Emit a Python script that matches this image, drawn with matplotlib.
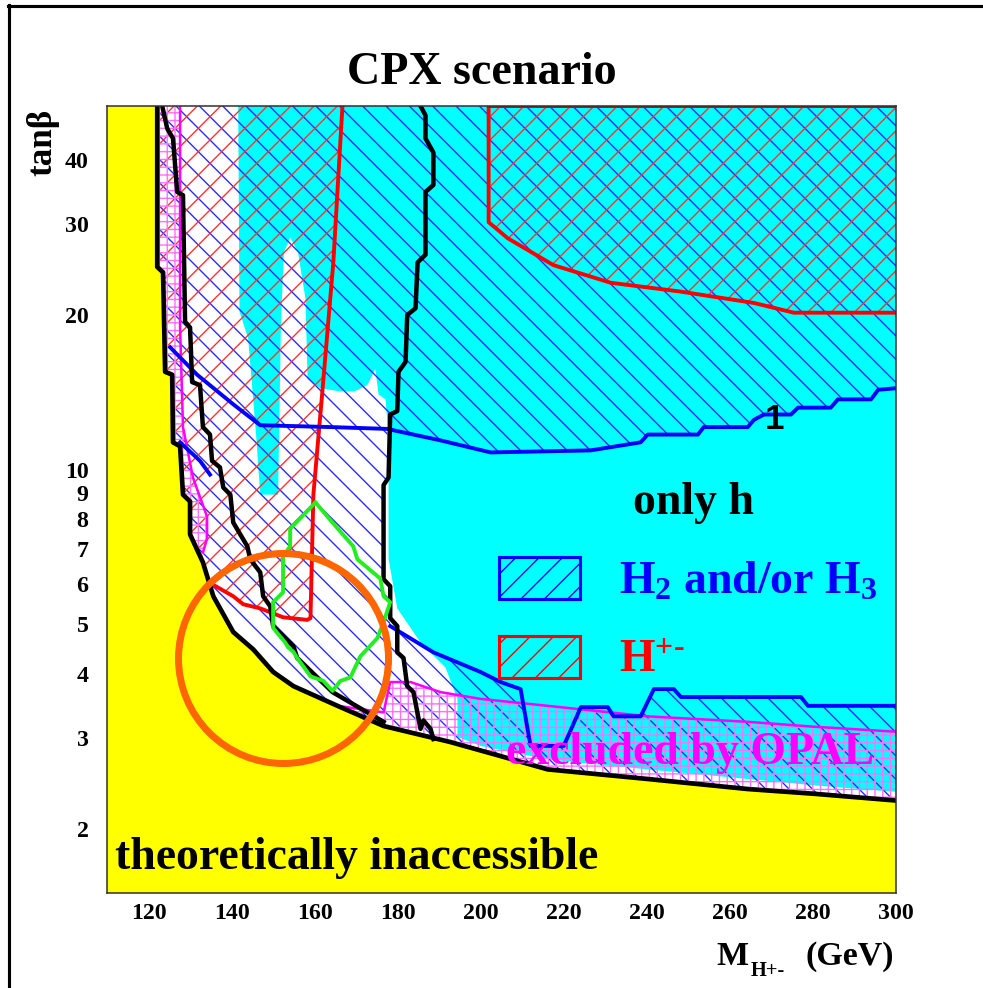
import matplotlib
matplotlib.use("Agg")
import matplotlib.pyplot as plt
from matplotlib.patches import Polygon, Patch
from matplotlib.lines import Line2D

plt.rcParams['hatch.linewidth'] = 0.7
plt.rcParams['font.family'] = ['Liberation Serif', 'DejaVu Serif']
plt.rcParams['font.weight'] = 'bold'
plt.rcParams['mathtext.fontset'] = 'custom'
plt.rcParams['mathtext.rm'] = 'Liberation Serif:bold'
plt.rcParams['mathtext.bf'] = 'Liberation Serif:bold'
plt.rcParams['mathtext.it'] = 'Liberation Serif:bold'
plt.rcParams['mathtext.default'] = 'rm'

XMIN, XMAX = 110, 300
YMIN, YMAX = 1.5, 51

# theoretical limit (edge of the yellow region), top -> right
edge_m = [122.1, 122.1, 123.5, 124.0, 125.7, 125.9, 127.6, 128.3, 130.0, 130.0, 133.1, 135.6, 140.4,
          145.2, 150.0, 154.9, 165.5, 176.6, 192.7, 204.8, 216.1, 240.2, 264.3, 280.2, 300.0]
edge_tb = [51, 24.8, 24.2, 15.5, 15.3, 11.3, 11.1, 8.94, 8.67, 7.48, 6.60, 5.67, 4.83,
           4.47, 4.04, 3.79, 3.47, 3.17, 2.95, 2.77, 2.61, 2.50, 2.39, 2.34, 2.27]

# inner black contour
inner_m = [123.3, 124.5, 125.9, 126.9, 128.3, 128.8, 130.0, 130.5, 132.4, 133.1, 134.8, 135.3, 137.2,
           138.0, 139.7, 140.4, 143.8, 144.5, 146.9, 147.6, 149.3, 150.0, 154.9, 155.8, 164.3, 176.6]
inner_tb = [51, 46.1, 44.1, 34.7, 34.2, 19.4, 18.9, 14.8, 14.6, 12.1, 11.7, 10.4, 10.1,
            9.23, 8.94, 7.89, 7.09, 6.69, 6.31, 5.67, 5.42, 4.96, 4.53, 4.30, 3.69, 3.23]

# right black contour
third_m = [185.5, 186.7, 186.7, 188.6, 188.6, 186.7, 186.7, 184.8, 184.3, 182.3, 181.9, 180.2, 179.9, 178.2,
           177.8, 176.6, 176.6, 178.2, 178.2, 179.9, 179.9, 181.4, 182.3, 183.8, 185.5, 186.2, 187.9, 188.6]
third_tb = [51, 48.9, 44.1, 41.4, 35.8, 34.7, 26.2, 25.3, 20.6, 20.0, 16.2, 15.5, 13.0, 12.8,
            9.65, 9.33, 6.12, 5.93, 5.14, 4.96, 4.41, 4.30, 3.79, 3.69, 3.13, 3.25, 3.13, 2.99]

# upper blue contour ("1")
ub_m = [125.2, 131.7, 140.4, 146.9, 163.8, 177.5, 190.3, 202.4, 226.5, 238.5, 240.2, 252.3, 253.7, 264.3,
        265.8, 268.2, 274.7, 276.4, 284.3, 286.0, 294.0, 295.7, 300.0]
ub_tb = [17.3, 15.3, 13.4, 12.2, 12.1, 12.0, 11.4, 10.8, 10.9, 11.3, 11.7, 11.7, 12.1, 12.1,
         12.5, 12.8, 12.8, 13.2, 13.2, 13.7, 13.7, 14.3, 14.4]

# lower blue contour, two visible pieces
lbl_m = [127.6, 132.4, 134.8]
lbl_tb = [11.3, 10.4, 9.78]
lb_m = [178.2, 188.6, 199.9, 204.8, 209.6, 212.0, 220.0, 224.1, 230.6, 232.0, 238.5, 241.7, 246.5,
        248.2, 277.1, 278.8, 300.0]
lb_tb = [4.96, 4.41, 4.04, 3.86, 3.74, 2.90, 2.90, 3.45, 3.45, 3.31, 3.31, 3.74, 3.74,
         3.61, 3.61, 3.47, 3.47]

# H+- exclusion contours
rl_m = [166.7, 164.5, 161.8, 159.7, 159.0, 158.2, 152.4, 146.9, 142.8, 140.4, 134.6]
rl_tb = [51, 25.3, 14.0, 8.94, 5.14, 5.10, 5.16, 5.37, 5.47, 5.67, 6.03]
rt_m = [201.9, 201.9, 206.5, 217.5, 231.3, 248.2, 265.8, 275.4, 300.0]
rt_tb = [51, 30.3, 28.2, 25.0, 23.1, 22.2, 21.1, 20.2, 20.2]

# green contour
gr_m = [160.2, 164.3, 169.3, 170.3, 175.8, 176.6, 178.2, 176.6, 175.1, 171.0, 168.6, 166.2, 164.3,
        162.1, 159.0, 155.8, 154.9, 153.6, 152.9, 150.0, 150.0, 152.4, 152.4, 154.1, 154.1]
gr_tb = [8.63, 7.89, 7.09, 6.69, 6.14, 5.67, 5.52, 5.05, 4.70, 4.33, 3.94, 3.88, 3.71,
         3.88, 3.96, 4.30, 4.42, 4.51, 4.61, 4.92, 5.52, 5.77, 6.78, 7.09, 7.67]

# OPAL exclusion (magenta)
ml_m = [127.6, 127.6, 128.3, 130.7, 134.1, 134.1, 133.1]
ml_tb = [51, 18.9, 12.1, 9.65, 8.10, 7.34, 6.90]
mb_m = [165.5, 176.6, 178.2, 183.1, 190.3, 199.9, 216.1, 240.2, 264.3, 280.2, 300.0]
mb_tb = [3.47, 3.37, 3.86, 3.86, 3.69, 3.58, 3.47, 3.31, 3.23, 3.16, 3.09]

# cyan area (no H2/H3 limit)
cy_m = [141.6, 300, 300, 280.2, 264.3, 240.2, 216.1, 199.9, 194.4, 194.4, 191.5, 185.5, 179.9, 177.8, 177.8,
        177.1, 175.4, 174.6, 172.7, 169.6, 166.0, 161.4, 158.3, 157.8, 156.0, 154.1, 152.6, 151.9, 151.2,
        146.9, 145.9, 144.0, 141.9]
cy_tb = [51, 51, 2.36, 2.43, 2.50, 2.61, 2.73, 2.90, 3.02, 3.58, 4.12, 4.61, 5.37, 6.71, 11.5,
         13.7, 14.0, 15.7, 14.6, 14.2, 14.2, 14.4, 15.0, 21.5, 26.5, 28.3, 26.5, 19.6, 8.94,
         8.94, 11.7, 18.0, 20.3]

circle_m, circle_tb = 152.4, 4.30


def pts(m, tb):
    return list(zip(m, tb))


edge = pts(edge_m, edge_tb)
third = pts(third_m, third_tb)
ub = pts(ub_m, ub_tb)
lb = pts(lb_m, lb_tb)

fig = plt.figure(figsize=(983 / 140, 988 / 140), dpi=140)
ax = fig.add_axes([107 / 983, 1 - 893 / 988, 789 / 983, 787 / 988])
ax.set_yscale('log')
ax.set_xlim(XMIN, XMAX)
ax.set_ylim(YMIN, YMAX)

# fills
ax.add_patch(Polygon(pts(cy_m, cy_tb), closed=True, facecolor='#00ffff', edgecolor='none', zorder=1))

blue_area = [(edge_m[0], YMAX), (XMAX, YMAX)] + ub[5:][::-1] + third[14:19] + lb + edge[::-1][:-1]
ax.add_patch(Polygon(blue_area, closed=True, facecolor='none', edgecolor='#2828ff',
                     hatch='\\\\', lw=0, zorder=2))

red1 = pts(rt_m, rt_tb) + [(XMAX, YMAX)]
red2 = pts(rl_m, rl_tb) + edge[10::-1]
for poly in (red1, red2):
    ax.add_patch(Polygon(poly, closed=True, facecolor='none', edgecolor='#ff3030',
                         hatch='//', lw=0, zorder=2))

pink1 = pts(ml_m, ml_tb) + edge[10::-1]
pink2 = pts(mb_m, mb_tb) + edge[:15:-1]
for poly in (pink1, pink2):
    ax.add_patch(Polygon(poly, closed=True, facecolor='none', edgecolor='#ff70ff',
                         hatch='+++', lw=0, zorder=2))

yellow = [(XMIN, YMIN), (XMIN, YMAX)] + edge + [(XMAX, YMIN)]
ax.add_patch(Polygon(yellow, closed=True, facecolor='#ffff00', edgecolor='none', zorder=3))

# contour lines
ax.plot(ml_m, ml_tb, color='#ff00ff', lw=1.3, zorder=4)
ax.plot(mb_m, mb_tb, color='#ff00ff', lw=1.3, zorder=4)
ax.plot(rl_m, rl_tb, color='#ff0000', lw=2.0, zorder=4.1)
ax.plot(rt_m, rt_tb, color='#ff0000', lw=2.0, zorder=4.1)
ax.plot([rt_m[0], XMAX], [YMAX, YMAX], color='#cc0000', lw=2.0, zorder=4.1)
ax.plot(ub_m, ub_tb, color='#0000ff', lw=2.0, zorder=4.2)
ax.plot(lbl_m, lbl_tb, color='#0000ff', lw=2.0, zorder=4.2)
ax.plot(lb_m, lb_tb, color='#0000ff', lw=2.0, zorder=4.2)
ax.plot(edge_m, edge_tb, color='black', lw=2.4, zorder=4.5)
ax.plot(inner_m, inner_tb, color='black', lw=2.3, zorder=4.5)
ax.plot(third_m, third_tb, color='black', lw=2.3, zorder=4.5)
ax.plot(gr_m + gr_m[:1], gr_tb + gr_tb[:1], color='#22ee22', lw=2.0, zorder=4.6)

# labels inside the frame
ax.text(111.9, 1.67, 'theoretically inaccessible', fontsize=23.5, color='black', zorder=6)
ax.text(251.3, 8.18, 'only h', fontsize=23.5, color='black', ha='center', zorder=6)
ax.text(206.0, 2.67, 'excluded by OPAL', fontsize=23.5, color='#ff00ff', zorder=6)
ax.text(270.8, 12.0, '1', fontsize=18, color='black', ha='center', family='Liberation Sans', zorder=6)

handles = [Patch(facecolor='#00ffff', edgecolor='#0000ff', hatch='//', lw=1.6),
           Patch(facecolor='#00ffff', edgecolor='#ff0000', hatch='//', lw=1.6)]
leg = ax.legend(handles, ['H$_2$ and/or H$_3$', 'H$^{+\u2010}$'], loc='upper left',
                bbox_to_anchor=(0.497, 0.427), frameon=False, fontsize=23.5, borderpad=0,
                borderaxespad=0, handlelength=1.76, handleheight=1.04, handletextpad=0.86,
                labelspacing=0.7)
leg.get_texts()[0].set_color('#0000ff')
leg.get_texts()[1].set_color('#ff0000')
leg.set_zorder(7)

ax.plot([circle_m], [circle_tb], 'o', ms=108, mfc='none', mec='#ff6600', mew=3.6, zorder=8)

# axes
ax.set_xticks([120, 140, 160, 180, 200, 220, 240, 260, 280, 300])
yt = [2, 3, 4, 5, 6, 7, 8, 9, 10, 20, 30, 40]
ax.set_yticks(yt)
ax.set_yticklabels([str(v) for v in yt])
ax.set_yticks([], minor=True)
ax.tick_params(length=0, labelsize=12.3)
ax.tick_params(axis='y', pad=9.5)
ax.tick_params(axis='x', pad=5)
for s in ax.spines.values():
    s.set_linewidth(0.8)
    s.set_color('#333333')
    s.set_zorder(9)

fig.text(482 / 983, 1 - 84 / 988, 'CPX scenario', fontsize=23.7, ha='center', va='baseline')
fig.text(43 / 983, 1 - 142 / 988, 'tanβ', fontsize=18, rotation=90, ha='center', va='center')
fig.text(716 / 983, 1 - 965 / 988, 'M', fontsize=17.5, ha='left', va='baseline')
fig.text(751 / 983, 1 - 976 / 988, 'H+-', fontsize=10.5, ha='left', va='baseline')
fig.text(894 / 983, 1 - 965 / 988, '(GeV)', fontsize=17.5, ha='right', va='baseline')

fig.add_artist(Line2D([8.5 / 983, 8.5 / 983], [0, 1 - 5 / 988], color='black', lw=1.6))
fig.add_artist(Line2D([7.8 / 983, 1], [1 - 6 / 988, 1 - 6 / 988], color='black', lw=1.6))

fig.savefig('out.png', dpi=140)
